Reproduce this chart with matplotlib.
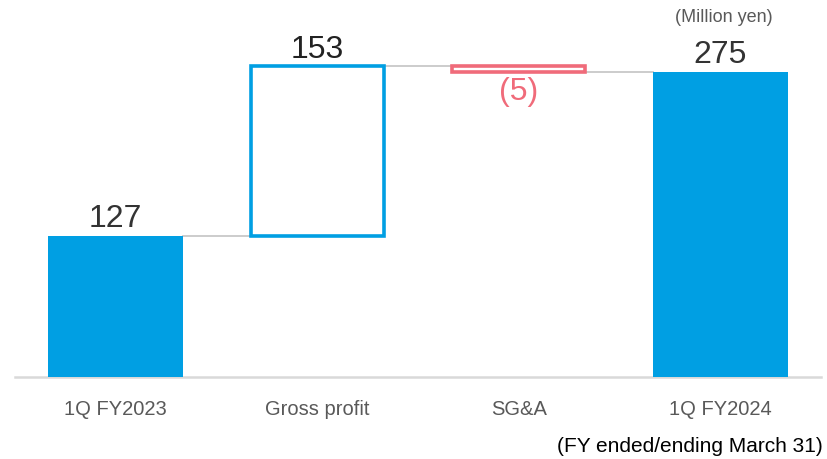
import matplotlib.pyplot as plt

plt.rcParams['font.family'] = ['Liberation Sans', 'DejaVu Sans']

categories = ["1Q FY2023", "Gross profit", "SG&A", "1Q FY2024"]
changes = [127, 153, -5]
total = 275
labels = ["127", "153", "(5)", "275"]

blue = "#009FE3"
red = "#F06B7A"
grey_line = "#C8C8C8"

fig = plt.figure(figsize=(8.28, 4.6), dpi=100)
ax = fig.add_axes([15 / 828, 82 / 460, 806 / 828, 378 / 460])
ax.set_xlim(-0.5, 3.5)
ax.set_ylim(0, 340.5)

w = 0.67
# start bar
ax.bar(0, changes[0], width=w, color=blue, zorder=3)
# gross profit (increase, outlined)
ax.bar(1, changes[1], bottom=changes[0], width=w - 0.012, facecolor="white",
       edgecolor=blue, linewidth=2.6, zorder=3)
# SG&A (decrease, outlined)
top = changes[0] + changes[1]
ax.bar(2, changes[2], bottom=top, width=w - 0.012, facecolor="white",
       edgecolor=red, linewidth=2.6, zorder=3)
# end bar
ax.bar(3, total, width=w, color=blue, zorder=3)

# connectors
levels = [changes[0], top, total]
for i, lv in enumerate(levels):
    ax.plot([i + w / 2, i + 1 - w / 2], [lv, lv], color=grey_line, lw=1.3, zorder=2)

# value labels
ax.text(0, changes[0] + 3, labels[0], ha="center", va="bottom", fontsize=23, color="#333333")
ax.text(1, top + 2, labels[1], ha="center", va="bottom", fontsize=23, color="#222222")
ax.text(2, total - 4, labels[2], ha="center", va="top", fontsize=23, color=red)
ax.text(3, total + 2, labels[3], ha="center", va="bottom", fontsize=23, color="#333333")

ax.set_xticks(range(4))
ax.set_xticklabels(categories, fontsize=14.5, color="#595959")
ax.tick_params(axis="x", length=0, pad=16)
ax.set_yticks([])
for s in ["top", "left", "right"]:
    ax.spines[s].set_visible(False)
ax.spines["bottom"].set_color("#D9D9D9")
ax.spines["bottom"].set_linewidth(1.8)

fig.text(724 / 828, 1 - 17 / 460, "(Million yen)", ha="center", va="center",
         fontsize=13, color="#595959")
fig.text(823 / 828, 1 - 447 / 460, "(FY ended/ending March 31)", ha="right", va="center",
         fontsize=15, color="#000000")

fig.savefig("out.png", dpi=100)
